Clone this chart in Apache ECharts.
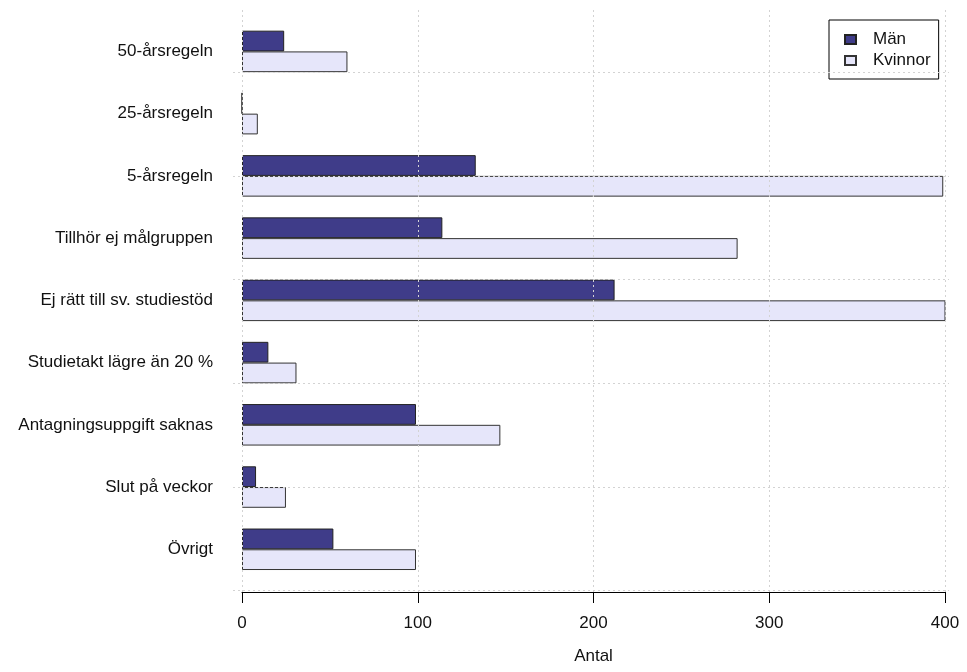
<!DOCTYPE html>
<html>
<head>
<meta charset="utf-8">
<script src="https://cdn.jsdelivr.net/npm/echarts@6/dist/echarts.min.js"></script>
<style>
html,body{margin:0;padding:0;background:#fff;}
#chart{width:967px;height:672px;}
</style>
</head>
<body>
<div id="chart"></div>
<script>
var categories = ['50-årsregeln','25-årsregeln','5-årsregeln','Tillhör ej målgruppen','Ej rätt till sv. studiestöd','Studietakt lägre än 20 %','Antagningsuppgift saknas','Slut på veckor','Övrigt'];
var man = [24, 0, 133, 114, 212, 15, 99, 8, 52];
var kvinnor = [60, 9, 399, 282, 401, 31, 147, 25, 99];
var xTicks = [0, 100, 200, 300, 400];

var FONT = 'Liberation Sans, Arial, sans-serif';
var chart = echarts.init(document.getElementById('chart'));
var gridLine = {show: true, lineStyle: {color: '#d3d3d3', width: 1, type: [2, 3]}};

chart.setOption({
  animation: false,
  backgroundColor: '#ffffff',
  textStyle: {fontFamily: FONT},
  legend: {
    data: [{name: 'Män', icon: 'rect'}, {name: 'Kvinnor', icon: 'rect'}],
    orient: 'vertical',
    left: 829, top: 20,
    padding: [11, 8, 10, 15],
    borderColor: '#000', borderWidth: 1,
    itemWidth: 11, itemHeight: 9, itemGap: 4,
    textStyle: {fontSize: 17, lineHeight: 17, color: '#111', fontFamily: FONT, padding: [0, 0, 0, 12]}
  },
  grid: [
    {left: 242, right: 22, top: 20.3, bottom: 91.6},
    {left: 242, right: 22, top: 10, bottom: 80},
    {left: 233, right: 18, top: 72.2, bottom: 81.3}
  ],
  xAxis: [
    {gridIndex: 0, type: 'value', min: 0, max: 400, show: false},
    {gridIndex: 1, type: 'value', min: 0, max: 400, interval: 100, z: 5,
     axisLine: {show: true, lineStyle: {color: '#000', width: 1}},
     axisTick: {show: true, length: 11, lineStyle: {color: '#000'}},
     axisLabel: {fontSize: 17, color: '#111', margin: 23, fontFamily: FONT,
                 formatter: function (v) { return xTicks.indexOf(v) >= 0 ? String(v) : ''; }},
     splitLine: gridLine,
     name: 'Antal', nameLocation: 'middle', nameGap: 56,
     nameTextStyle: {fontSize: 17, color: '#111', fontFamily: FONT}},
    {gridIndex: 2, type: 'value', min: 0, max: 1, show: false}
  ],
  yAxis: [
    {gridIndex: 0, type: 'category', data: categories, inverse: true,
     axisLine: {show: false}, axisTick: {show: false},
     axisLabel: {fontSize: 17, color: '#111', margin: 29, fontFamily: FONT}},
    {gridIndex: 1, type: 'value', min: 0, max: 1, show: false},
    {gridIndex: 2, type: 'value', min: 0, max: 25, interval: 5, z: 5,
     axisLine: {show: false}, axisTick: {show: false}, axisLabel: {show: false},
     splitLine: gridLine}
  ],
  series: [
    {name: 'Män', type: 'bar', xAxisIndex: 0, yAxisIndex: 0, data: man,
     barGap: '0%', barCategoryGap: '33.33%',
     itemStyle: {color: '#3f3c89', borderColor: '#222', borderWidth: 1}},
    {name: 'Kvinnor', type: 'bar', xAxisIndex: 0, yAxisIndex: 0, data: kvinnor,
     barGap: '0%', barCategoryGap: '33.33%',
     itemStyle: {color: '#e6e6fa', borderColor: '#333', borderWidth: 1}}
  ]
});
</script>
</body>
</html>
